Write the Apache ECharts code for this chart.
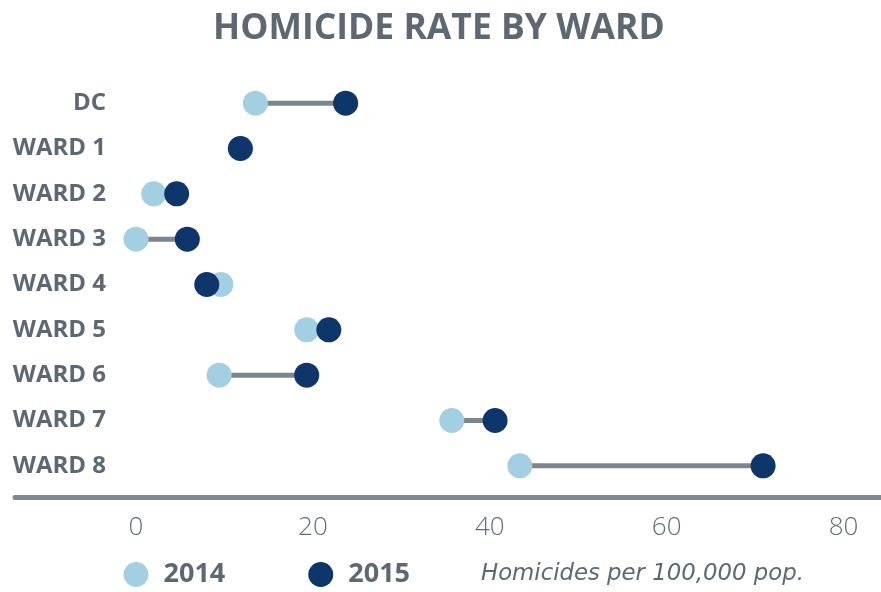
<!DOCTYPE html>
<html>
<head>
<meta charset="utf-8">
<script src="https://cdn.jsdelivr.net/npm/echarts@6/dist/echarts.min.js"></script>
<style>
  html, body { margin: 0; padding: 0; background: #fff; }
  #chart { width: 881px; height: 592px; }
</style>
</head>
<body>
<div id="chart"></div>
<script>
// homicides per 100,000 pop.
const categories = ['DC', 'WARD 1', 'WARD 2', 'WARD 3', 'WARD 4', 'WARD 5', 'WARD 6', 'WARD 7', 'WARD 8']
const rate2014 = [13.5, 11.8, 2.0, 0, 9.6, 19.3, 9.4, 35.7, 43.4]
const rate2015 = [23.7, 11.8, 4.6, 5.8, 8.0, 21.8, 19.3, 40.6, 70.9]
const xTicks = [0, 20, 40, 60, 80]

const textGrey = '#5e6872'
const lightBlue = '#a3cfe2'
const navy = '#0f366b'
const lineGrey = '#7e868d'
const font = '"Open Sans", "DejaVu Sans", sans-serif'

let chart = echarts.init(document.getElementById('chart'))

let option = {
    animation: false,
    title: {
        text: 'HOMICIDE RATE BY WARD',
        left: 208,
        top: 6,
        textStyle: { fontFamily: font, fontSize: 35.5, fontWeight: 'bold', color: textGrey }
    },
    grid: { left: 15, right: 0, top: 80.5, bottom: 103.5 },
    xAxis: {
        type: 'value',
        min: -13.68,
        max: 84.23,
        offset: 9,
        axisLine: { show: true, lineStyle: { color: '#7f878f', width: 5 } },
        axisTick: { show: false },
        splitLine: { show: false },
        axisLabel: {
            customValues: xTicks,
            margin: 17,
            fontFamily: font,
            fontSize: 26,
            fontWeight: 300,
            color: '#636d77'
        }
    },
    yAxis: {
        type: 'category',
        data: categories,
        inverse: true,
        offset: -99,
        axisLine: { show: false },
        axisTick: { show: false },
        splitLine: { show: false },
        axisLabel: {
            margin: 8,
            padding: [3, 0, 0, 0],
            fontFamily: font,
            fontSize: 24,
            fontWeight: 'bold',
            color: textGrey
        }
    },
    legend: {
        data: ['2014', '2015'],
        left: 118.5,
        top: 556,
        icon: 'circle',
        itemWidth: 25,
        itemHeight: 25,
        itemGap: 83,
        textStyle: {
            fontFamily: font,
            fontSize: 27,
            fontWeight: 'bold',
            color: textGrey,
            padding: [6, 0, 0, 10]
        }
    },
    graphic: [{
        type: 'text',
        left: 481,
        top: 563,
        style: {
            text: 'Homicides per 100,000 pop.',
            fontFamily: '"DejaVu Sans", sans-serif',
            fontSize: 22.8,
            fontStyle: 'italic',
            fill: textGrey
        }
    }],
    series: [
        {
            type: 'custom',
            name: 'range',
            z: 1,
            encode: { x: [0, 1], y: 2 },
            data: categories.map((c, i) => [rate2014[i], rate2015[i], i]),
            renderItem: function (params, api) {
                const a = api.coord([api.value(0), api.value(2)])
                const b = api.coord([api.value(1), api.value(2)])
                return {
                    type: 'line',
                    shape: { x1: a[0], y1: a[1], x2: b[0], y2: b[1] },
                    style: { stroke: lineGrey, lineWidth: 5 }
                }
            }
        },
        {
            type: 'scatter',
            name: '2014',
            z: 2,
            symbolSize: 25,
            itemStyle: { color: lightBlue, opacity: 1 },
            data: rate2014.map((v, i) => [v, categories[i]])
        },
        {
            type: 'scatter',
            name: '2015',
            z: 3,
            symbolSize: 25,
            itemStyle: { color: navy, opacity: 1 },
            data: rate2015.map((v, i) => [v, categories[i]])
        }
    ]
}

chart.setOption(option)
</script>
</body>
</html>
